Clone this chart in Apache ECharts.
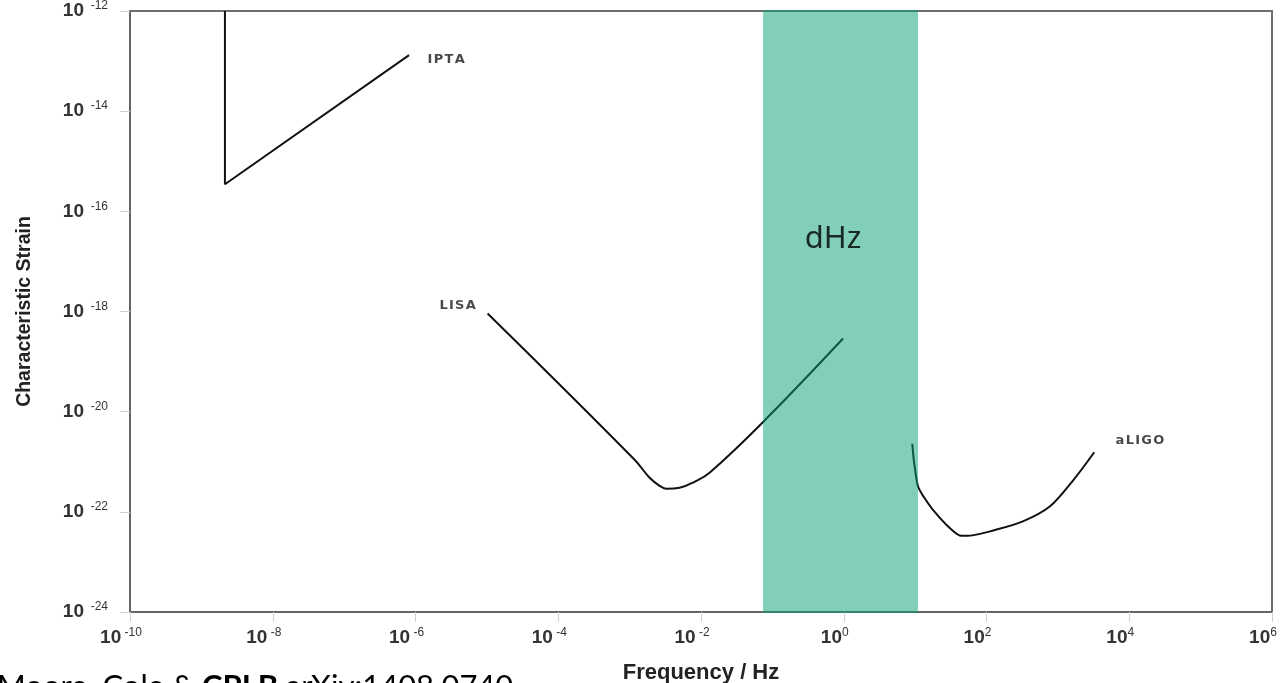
<!DOCTYPE html>
<html>
<head>
<meta charset="utf-8">
<script src="https://cdn.jsdelivr.net/npm/echarts@6/dist/echarts.min.js"></script>
<style>
  html, body { margin: 0; padding: 0; background: #fff; }
  #chart { width: 1287px; height: 683px; }
</style>
</head>
<body>
<div id="chart"></div>
<script>
// Axis ranges are in decades (log10 of the value).
const freqTicks = [-10, -8, -6, -4, -2, 0, 2, 4, 6];
const strainTicks = [-24, -22, -20, -18, -16, -14, -12];

// IPTA sensitivity (log10 Hz, log10 strain)
const iptaFreq   = [-8.67, -8.67, -6.09];
const iptaStrain = [-12.0, -15.46, -12.88];

// LISA sensitivity
const lisaFreq   = [-4.99, -2.93, -2.72, -2.58, -2.48, -2.30, -2.09, -1.88, -1.14, -0.01];
const lisaStrain = [-18.04, -20.96, -21.32, -21.48, -21.54, -21.52, -21.40, -21.22, -20.22, -18.54];

// Advanced LIGO sensitivity
const ligoFreq   = [0.96, 0.98, 1.00, 1.04, 1.12, 1.25, 1.49, 1.65, 1.80, 2.05, 2.51, 2.89, 3.22, 3.51];
const ligoStrain = [-20.64, -20.95, -21.16, -21.49, -21.70, -21.96, -22.33, -22.48, -22.47, -22.39, -22.19, -21.89, -21.36, -20.81];

// Decihertz band edges
const dhzBand = [-1.13, 1.04];

// Text annotations
const noteNames  = ['IPTA', 'LISA', 'aLIGO', 'dHz'];
const noteFreq   = [-5.57, -5.41, 4.15, -0.15];
const noteStrain = [-12.98, -17.88, -20.58, -16.56];

const pairs = (xs, ys) => xs.map((x, i) => [x, ys[i]]);

const chart = echarts.init(document.getElementById('chart'));

const curveStyle = { color: '#111', width: 2 };

const tickRich = {
  b: { fontFamily: 'Liberation Sans', fontWeight: 'bold', fontSize: 19, color: '#333', lineHeight: 22 },
  s: { fontFamily: 'Liberation Sans', fontSize: 12, color: '#333', lineHeight: 12, verticalAlign: 'top' }
};

const spaced = (s) => s.split('').join('\u200A');

chart.setOption({
  animation: false,
  grid: {
    left: 130, right: 15, top: 11, bottom: 71,
    outerBoundsMode: 'none', containLabel: false,
    show: true, borderColor: '#6e6e6e', borderWidth: 2, backgroundColor: 'transparent'
  },
  xAxis: {
    type: 'value', min: -10, max: 6, interval: 2,
    name: 'Frequency / Hz', nameLocation: 'middle', nameGap: 50,
    nameMoveOverlap: false,
    nameTextStyle: { fontFamily: 'Liberation Sans', fontWeight: 'bold', fontSize: 22, color: '#222' },
    axisLine: { show: true, onZero: false, lineStyle: { color: '#666', width: 2 } },
    axisTick: { show: true, length: 10, lineStyle: { color: '#d0d0d0', width: 1 } },
    splitLine: { show: false },
    axisLabel: {
      margin: 15,
      padding: [0, 18, 0, 0],
      formatter: (v) => '{b|10}{s|' + (v < 0 ? ' ' : '') + v + '}',
      rich: tickRich
    }
  },
  yAxis: {
    type: 'value', min: -24, max: -12, interval: 2,
    name: 'Characteristic Strain', nameLocation: 'middle', nameGap: 95, nameRotate: 90,
    nameMoveOverlap: false,
    nameTextStyle: { fontFamily: 'Liberation Sans', fontWeight: 'bold', fontSize: 19.5, color: '#222' },
    axisLine: { show: true, onZero: false, lineStyle: { color: '#666', width: 2 } },
    axisTick: { show: true, length: 10, lineStyle: { color: '#d0d0d0', width: 1 } },
    splitLine: { show: false },
    axisLabel: {
      margin: 22,
      formatter: (v) => '{b|10}{s|  ' + v + '}',
      rich: tickRich
    }
  },
  series: [
    {
      name: 'IPTA', type: 'line', z: 2, symbol: 'none',
      data: pairs(iptaFreq, iptaStrain), lineStyle: curveStyle
    },
    {
      name: 'LISA', type: 'line', z: 2, symbol: 'none', smooth: 0.4,
      data: pairs(lisaFreq, lisaStrain), lineStyle: curveStyle
    },
    {
      name: 'aLIGO', type: 'line', z: 2, symbol: 'none', smooth: 0.3,
      data: pairs(ligoFreq, ligoStrain), lineStyle: curveStyle
    },
    {
      name: 'dHz band', type: 'custom', z: 5,
      data: [dhzBand],
      renderItem: (params, api) => {
        const yMin = -24, yMax = -12;
        const p0 = api.coord([api.value(0), yMax]);
        const p1 = api.coord([api.value(1), yMin]);
        return {
          type: 'rect',
          shape: { x: p0[0], y: p0[1] - 1, width: p1[0] - p0[0], height: p1[1] - p0[1] + 2 },
          style: { fill: 'rgba(5,160,115,0.5)' }
        };
      }
    },
    {
      name: 'notes', type: 'scatter', z: 10, symbolSize: 0,
      data: noteNames.map((n, i) => n === 'dHz'
        ? { name: n, value: [noteFreq[i], noteStrain[i]],
            label: { formatter: n, fontFamily: 'Noto Sans', fontWeight: 'normal', fontSize: 31, color: '#000' } }
        : { name: n, value: [noteFreq[i], noteStrain[i]] }),
      label: {
        show: true, position: 'inside',
        formatter: (p) => spaced(p.name),
        fontFamily: 'DejaVu Sans', fontWeight: 'bold', fontSize: 13, color: '#1a1a1a'
      },
      labelLayout: { hideOverlap: false }
    }
  ],
  graphic: [
    {
      type: 'text', left: -3, top: 671,
      style: {
        text: '{n|Moore, Cole & }{c|CPLB }{l|arXiv:1408.0740}',
        rich: {
          n: { fontFamily: 'Lato', fontSize: 31, color: '#2a2a2a' },
          c: { fontFamily: 'Lato', fontSize: 31, fontWeight: 'bold', color: '#111' },
          l: { fontFamily: 'Lato', fontSize: 31, color: '#55b3e8' }
        }
      }
    }
  ]
});
</script>
</body>
</html>
